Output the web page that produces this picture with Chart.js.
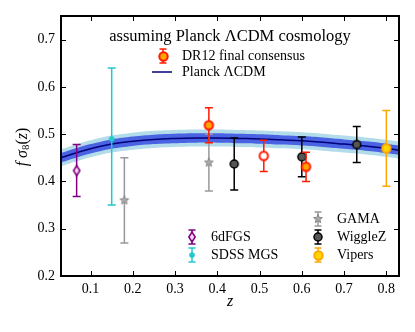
<!DOCTYPE html>
<html><head><meta charset="utf-8">
<script src="https://cdn.jsdelivr.net/npm/chart.js@4"></script>
<style>body{margin:0;background:#fff}canvas{display:block}</style>
</head><body>
<canvas id="c" width="415" height="332"></canvas>
<script>
// ---- data ----
const xTicks = [0.1, 0.2, 0.3, 0.4, 0.5, 0.6, 0.7, 0.8];
const yTicks = [0.2, 0.3, 0.4, 0.5, 0.6, 0.7];

const planckZ   = [0.03, 0.05, 0.10, 0.15, 0.20, 0.25, 0.30, 0.35, 0.40, 0.45, 0.50, 0.55, 0.60, 0.65, 0.70, 0.75, 0.80, 0.83];
const planckFs8 = [0.450, 0.456, 0.469, 0.479, 0.485, 0.489, 0.491, 0.492, 0.492, 0.491, 0.490, 0.488, 0.486, 0.483, 0.479, 0.475, 0.470, 0.466];
const planckErr1 = [0.010, 0.010, 0.010, 0.010, 0.010, 0.010, 0.010, 0.010, 0.010, 0.010, 0.010, 0.010, 0.010, 0.010, 0.010, 0.010, 0.010, 0.010];
const planckErr2 = [0.018, 0.018, 0.018, 0.018, 0.018, 0.018, 0.018, 0.018, 0.018, 0.018, 0.018, 0.018, 0.018, 0.018, 0.018, 0.018, 0.018, 0.018];

const sixdfZ = [0.067], sixdfF = [0.423], sixdfLo = [0.055], sixdfHi = [0.055];
const sdssZ = [0.15], sdssF = [0.49], sdssLo = [0.14], sdssHi = [0.15];
const gamaZ = [0.18, 0.38], gamaF = [0.36, 0.44], gamaErr = [0.09, 0.06];
const wigZ = [0.44, 0.60, 0.73], wigF = [0.437, 0.452, 0.478], wigErr = [0.055, 0.042, 0.038];
const dr12Z = [0.38, 0.51, 0.61], dr12F = [0.519, 0.454, 0.431], dr12Err = [0.037, 0.033, 0.031];
const vipZ = [0.80], vipF = [0.47], vipErr = [0.08];

// ---- styles ----
const SERIF = '"Liberation Serif", "DejaVu Serif", serif';
const C = {
  sixdf: '#800080', sdss: '#22c8cc', gama: '#999999', wig: '#000000',
  dr12: '#ff1a00', vip: '#ffa500',
  band2: '#b3dcea', band1: '#4a63e3', line: '#00007a'
};

function mk(size, draw) {
  const c = document.createElement('canvas'); c.width = c.height = size;
  const g = c.getContext('2d'); draw(g, size / 2); return c;
}
function circ(fill, stroke, r, lw) {
  return mk(Math.ceil(2 * r + lw + 2), (g, h) => {
    g.beginPath(); g.arc(h, h, r, 0, Math.PI * 2);
    g.fillStyle = fill; g.fill(); g.lineWidth = lw; g.strokeStyle = stroke; g.stroke();
  });
}
const mDiamond = mk(14, (g, h) => {
  g.beginPath(); g.moveTo(h, h - 5); g.lineTo(h + 3.2, h); g.lineTo(h, h + 5); g.lineTo(h - 3.2, h); g.closePath();
  g.fillStyle = '#f4d6f4'; g.fill(); g.lineWidth = 1.5; g.strokeStyle = C.sixdf; g.stroke();
});
const mStar = mk(14, (g, h) => {
  g.beginPath();
  for (let i = 0; i < 10; i++) {
    const r = i % 2 ? 2.0 : 4.6, a = -Math.PI / 2 + i * Math.PI / 5;
    g.lineTo(h + r * Math.cos(a), h + r * Math.sin(a));
  }
  g.closePath(); g.fillStyle = '#aaaaaa'; g.fill(); g.lineWidth = 1; g.strokeStyle = '#888888'; g.stroke();
});
const mSdss = circ(C.sdss, C.sdss, 2.6, 0.5);
const mWig = circ('#555555', '#000000', 4, 1.5);
const mDr12 = circ('#ffa500', C.dr12, 4.2, 2);
const mDr12Open = circ('#ffffff', C.dr12, 4.2, 2);
const mVip = circ('#ffd700', '#ffa500', 4.2, 2);

function pts(zs, fs) { return zs.map((z, i) => ({ x: z, y: fs[i] })); }
function line(data, extra) {
  return Object.assign({ type: 'line', data: data, pointRadius: 0, borderWidth: 0, tension: 0.4, fill: false }, extra);
}
function sc(label, zs, fs, lo, hi, color, style, order) {
  return { type: 'scatter', label, data: pts(zs, fs), errLo: lo, errHi: hi, errColor: color,
    pointStyle: style, pointRadius: 5, order: order };
}

const datasets = [
  line(planckZ.map((z, i) => ({ x: z, y: planckFs8[i] - planckErr2[i] })), { order: 20 }),
  line(planckZ.map((z, i) => ({ x: z, y: planckFs8[i] + planckErr2[i] })), { order: 19, fill: '-1', backgroundColor: C.band2 }),
  line(planckZ.map((z, i) => ({ x: z, y: planckFs8[i] - planckErr1[i] })), { order: 18 }),
  line(planckZ.map((z, i) => ({ x: z, y: planckFs8[i] + planckErr1[i] })), { order: 17, fill: '-1', backgroundColor: C.band1 }),
  line(pts(planckZ, planckFs8), { order: 16, borderWidth: 1.5, borderColor: C.line }),
  sc('6dFGS', sixdfZ, sixdfF, sixdfLo, sixdfHi, C.sixdf, mDiamond, 6),
  sc('SDSS MGS', sdssZ, sdssF, sdssLo, sdssHi, C.sdss, mSdss, 5),
  sc('GAMA', gamaZ, gamaF, gamaErr, gamaErr, C.gama, mStar, 4),
  sc('WiggleZ', wigZ, wigF, wigErr, wigErr, C.wig, mWig, 3),
  sc('Vipers', vipZ, vipF, vipErr, vipErr, C.vip, mVip, 2),
  sc('DR12 final consensus', dr12Z, dr12F, dr12Err, dr12Err, C.dr12, [mDr12, mDr12Open, mDr12], 1)
];

const errorBars = {
  id: 'errorBars',
  beforeDatasetDraw(chart, args) {
    const ds = chart.data.datasets[args.index];
    if (!ds.errLo) return;
    const xs = chart.scales.x, ys = chart.scales.y, g = chart.ctx;
    g.save(); g.strokeStyle = ds.errColor; g.lineWidth = 1.5;
    ds.data.forEach((p, i) => {
      const x = xs.getPixelForValue(p.x);
      const yt = ys.getPixelForValue(p.y + ds.errHi[i]);
      const yb = ys.getPixelForValue(p.y - ds.errLo[i]);
      g.beginPath(); g.moveTo(x, yt); g.lineTo(x, yb);
      g.moveTo(x - 4, yt); g.lineTo(x + 4, yt);
      g.moveTo(x - 4, yb); g.lineTo(x + 4, yb); g.stroke();
    });
    g.restore();
  }
};

function legendIcon(g, x, y, color, img) {
  g.save(); g.strokeStyle = color; g.lineWidth = 1.5;
  g.beginPath(); g.moveTo(x, y - 7); g.lineTo(x, y + 7);
  g.moveTo(x - 3.5, y - 7); g.lineTo(x + 3.5, y - 7);
  g.moveTo(x - 3.5, y + 7); g.lineTo(x + 3.5, y + 7); g.stroke();
  g.drawImage(img, Math.round(x - img.width / 2), Math.round(y - img.height / 2));
  g.restore();
}

const frame = {
  id: 'frame',
  afterDraw(chart) {
    const g = chart.ctx, a = chart.chartArea, xs = chart.scales.x, ys = chart.scales.y;
    g.save();
    g.strokeStyle = '#000'; g.lineWidth = 1;
    g.beginPath();
    xTicks.forEach(v => { const x = Math.round(xs.getPixelForValue(v)) + 0.5;
      g.moveTo(x, a.bottom); g.lineTo(x, a.bottom - 5); g.moveTo(x, a.top); g.lineTo(x, a.top + 5); });
    yTicks.forEach(v => { const y = Math.round(ys.getPixelForValue(v)) + 0.5;
      g.moveTo(a.left, y); g.lineTo(a.left + 5, y); g.moveTo(a.right, y); g.lineTo(a.right - 5, y); });
    g.stroke();
    g.lineWidth = 2;
    g.strokeRect(a.left, a.top, a.right - a.left, a.bottom - a.top);

    // legends
    g.fillStyle = '#000'; g.textBaseline = 'middle';
    g.font = '16.5px ' + SERIF; g.textAlign = 'center';
    g.fillText('assuming Planck ΛCDM cosmology', 230, 37);
    g.textAlign = 'left'; g.font = '14px ' + SERIF;
    legendIcon(g, 163, 56, C.dr12, mDr12);
    g.fillText('DR12 final consensus', 182, 56);
    g.strokeStyle = C.line; g.lineWidth = 1.5;
    g.beginPath(); g.moveTo(152, 72); g.lineTo(172, 72); g.stroke();
    g.fillText('Planck ΛCDM', 182, 72);

    legendIcon(g, 192, 237, C.sixdf, mDiamond); g.fillText('6dFGS', 211, 237);
    legendIcon(g, 192, 255, C.sdss, mSdss); g.fillText('SDSS MGS', 211, 255);
    legendIcon(g, 318, 219, C.gama, mStar); g.fillText('GAMA', 337, 219);
    legendIcon(g, 318, 237, C.wig, mWig); g.fillText('WiggleZ', 337, 237);
    legendIcon(g, 318, 255, C.vip, mVip); g.fillText('Vipers', 337, 255);

    // axis titles
    g.font = 'italic 16px ' + SERIF; g.textAlign = 'center';
    g.fillText('z', (a.left + a.right) / 2, 302);
    g.save(); g.translate(23, 147); g.rotate(-Math.PI / 2);
    const parts = [
      { t: 'f ', f: 'italic 16px ' + SERIF, dy: 0 },
      { t: 'σ', f: 'italic 16px ' + SERIF, dy: 0 },
      { t: '8', f: '11px ' + SERIF, dy: 3.5 },
      { t: '(', f: '16px ' + SERIF, dy: 0 },
      { t: 'z', f: 'italic 16px ' + SERIF, dy: 0 },
      { t: ')', f: '16px ' + SERIF, dy: 0 }
    ];
    let w = 0; parts.forEach(p => { g.font = p.f; p.w = g.measureText(p.t).width; w += p.w; });
    let cx = -w / 2; g.textAlign = 'left';
    parts.forEach(p => { g.font = p.f; g.fillText(p.t, cx, p.dy); cx += p.w; });
    g.restore();
    g.restore();
  }
};

new Chart(document.getElementById('c'), {
  data: { datasets },
  options: {
    responsive: false, animation: false, devicePixelRatio: 1,
    layout: { padding: { top: 16, right: 16, left: 0, bottom: 0 } },
    plugins: { legend: { display: false }, tooltip: { enabled: false } },
    scales: {
      x: {
        type: 'linear', min: 0.03, max: 0.83,
        afterBuildTicks: s => { s.ticks = xTicks.map(v => ({ value: v })); },
        afterFit: s => { s.height = 56; },
        grid: { display: true, drawOnChartArea: false, drawTicks: false },
        border: { display: false },
        ticks: { padding: 5, color: '#000', font: { family: SERIF, size: 14 }, callback: v => v.toFixed(1), maxRotation: 0 }
      },
      y: {
        type: 'linear', min: 0.2, max: 0.75,
        afterBuildTicks: s => { s.ticks = yTicks.map(v => ({ value: v })); },
        afterFit: s => { s.width = 61; },
        grid: { display: true, drawOnChartArea: false, drawTicks: false },
        border: { display: false },
        ticks: { padding: 6, color: '#000', font: { family: SERIF, size: 14 }, callback: v => v.toFixed(1) }
      }
    }
  },
  plugins: [errorBars, frame]
});
</script>
</body></html>
